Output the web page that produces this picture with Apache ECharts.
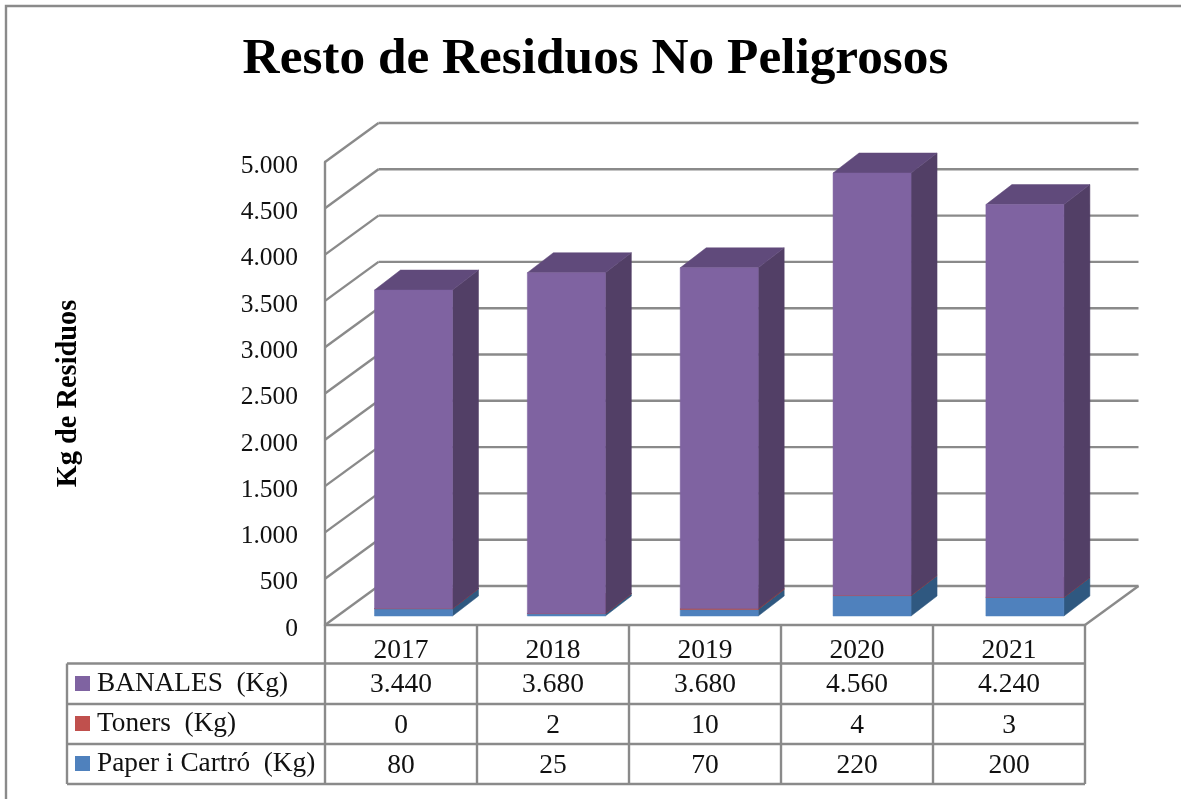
<!DOCTYPE html>
<html><head><meta charset="utf-8">
<style>html,body{margin:0;padding:0;background:#fff}#c{width:1181px;height:799px}</style>
<script src="https://cdn.jsdelivr.net/npm/echarts@6/dist/echarts.min.js"></script>
</head><body><div id="c"></div>
<script>
const categories = ['2017','2018','2019','2020','2021'];
const banales = [3440,3680,3680,4560,4240];
const toners = [0,2,10,4,3];
const paper = [80,25,70,220,200];
const yTicks = [0,500,1000,1500,2000,2500,3000,3500,4000,4500,5000];
const seriesNames = ['BANALES  (Kg)','Toners  (Kg)','Paper i Cartró  (Kg)'];

const FONT = '"Liberation Serif", serif';
const GRID = '#8a8a8a';
const fmt = v => String(v).replace(/\B(?=(\d{3})+$)/g,'.');
const WALL = {dx:53.5, dy:-39};
const BAR = {dx:12.5, dy:-9, w:78, ddx:26, ddy:-20, persp:0.85};

function stackRows(vals, base){ return vals.map((v,i)=>[i, base[i], base[i]+v]); }
const paperRows = stackRows(paper, paper.map(()=>0));
const tonerRows = stackRows(toners, paper);
const banalRows = stackRows(banales, tonerRows.map(r=>r[2]));

function poly(points, fill){
  return {type:'polygon', shape:{points}, style:{fill, stroke:fill, lineWidth:0.5}};
}
function barRender(front, side, top){
  return function(params, api){
    const c0 = api.coord([api.value(0), api.value(1)]);
    const c1 = api.coord([api.value(0), api.value(2)]);
    const xl = c0[0] + BAR.dx + BAR.persp*api.value(0) - BAR.w/2, xr = xl + BAR.w;
    const yb = c0[1] + BAR.dy, yt = c1[1] + BAR.dy;
    const d = BAR.ddx, e = BAR.ddy;
    return {type:'group', children:[
      poly([[xr,yb],[xr+d,yb+e],[xr+d,yt+e],[xr,yt]], side),
      poly([[xl,yt],[xr,yt],[xr+d,yt+e],[xl+d,yt+e]], top),
      poly([[xl,yb],[xr,yb],[xr,yt],[xl,yt]], front)
    ]};
  };
}
function barSeries(name, rows, front, side, top){
  return {type:'custom', name, coordinateSystem:'cartesian2d', data:rows, z:5, silent:true,
    encode:{x:0,y:[1,2]}, itemStyle:{color:front}, renderItem:barRender(front,side,top)};
}
function ln(x1,y1,x2,y2){
  return {type:'line', shape:{x1,y1,x2,y2}, style:{stroke:GRID, lineWidth:2.4}};
}
const wallSeries = {type:'custom', name:'walls', coordinateSystem:'cartesian2d', silent:true, z:1,
  data:yTicks.map(v=>[0,v]), encode:{x:0,y:1},
  renderItem(params, api){
    const g = params.coordSys, y = api.coord([0, api.value(1)])[1];
    const xb = g.x + WALL.dx, yb = y + WALL.dy;
    const ch = [ln(g.x,y,xb,yb), ln(xb,yb,g.x+g.width+WALL.dx,yb)];
    if (api.value(1)===0) ch.push(ln(g.x+g.width,y,g.x+g.width+WALL.dx,yb));
    return {type:'group', children:ch};
  }};
const tableRows = [banales, toners, paper];
const ROW_Y = [663.5,704,744,784];
const tableSeries = {type:'custom', name:'table', coordinateSystem:'cartesian2d', silent:true, z:3,
  data:categories.map((c,i)=>[i,0]), encode:{x:0,y:1},
  renderItem(params, api){
    const g = params.coordSys, i = api.value(0), cw = g.width/categories.length;
    const cx = g.x + cw*(i+0.5), ch = [];
    const bottom = ROW_Y[3], axisY = g.y+g.height;
    ch.push(ln(g.x+cw*(i+1), axisY, g.x+cw*(i+1), bottom));
    if (i===0){
      ch.push(ln(g.x, axisY, g.x, bottom));
      ch.push(ln(67, ROW_Y[0], 67, bottom));
      ROW_Y.forEach(y=>ch.push(ln(67,y,g.x+g.width,y)));
    }
    tableRows.forEach((row,r)=>{
      ch.push({type:'text', style:{text:fmt(row[i]), x:cx, y:(ROW_Y[r]+ROW_Y[r+1])/2+1.5,
        align:'center', verticalAlign:'middle', font:'27.5px '+FONT, fill:'#111'}});
    });
    return {type:'group', children:ch};
  }};

const chart = echarts.init(document.getElementById('c'), null, {renderer:'canvas'});
chart.setOption({
  animation:false,
  backgroundColor:'#fff',
  title:{text:'Resto de Residuos No Peligrosos', left:590.5, textAlign:'center', top:29,
    textStyle:{fontFamily:FONT, fontSize:51.3, fontWeight:'bold', color:'#000'}},
  legend:{data:seriesNames, orient:'vertical', left:75, top:670, itemWidth:15, itemHeight:15, itemGap:13,
    icon:'rect', selectedMode:false, padding:0,
    textStyle:{fontFamily:FONT, fontSize:27.3, color:'#111', padding:[3,0,0,2]}},
  grid:{left:325, top:162, width:760, height:463},
  xAxis:{type:'category', data:categories, axisTick:{show:false},
    axisLine:{lineStyle:{color:GRID,width:2.4}}, splitLine:{show:false},
    axisLabel:{fontFamily:FONT, fontSize:27.5, color:'#111', margin:12}},
  yAxis:{type:'value', min:0, max:5000, interval:500, splitLine:{show:false},
    name:'Kg de Residuos', nameLocation:'middle', nameGap:242, nameRotate:90,
    nameTextStyle:{fontFamily:FONT, fontSize:28.4, fontWeight:'bold', color:'#000'},
    axisTick:{show:false}, axisLine:{show:true, lineStyle:{color:GRID,width:2.4}},
    axisLabel:{fontFamily:FONT, fontSize:25.5, color:'#111', margin:27, verticalAlign:'top', lineHeight:8, formatter:v=>fmt(v)}},
  graphic:[{type:'polyline', silent:true, shape:{points:[[6,799],[6,6],[1181,6]]}, style:{stroke:GRID, fill:null, lineWidth:2.4}}],
  series:[
    wallSeries,
    barSeries(seriesNames[2], paperRows, '#4F81BD', '#2F5880', '#3A6494'),
    barSeries(seriesNames[1], tonerRows, '#C0504D', '#8A3A38', '#A04442'),
    barSeries(seriesNames[0], banalRows, '#7F63A1', '#523F66', '#604A7B'),
    tableSeries
  ]
});
</script></body></html>
